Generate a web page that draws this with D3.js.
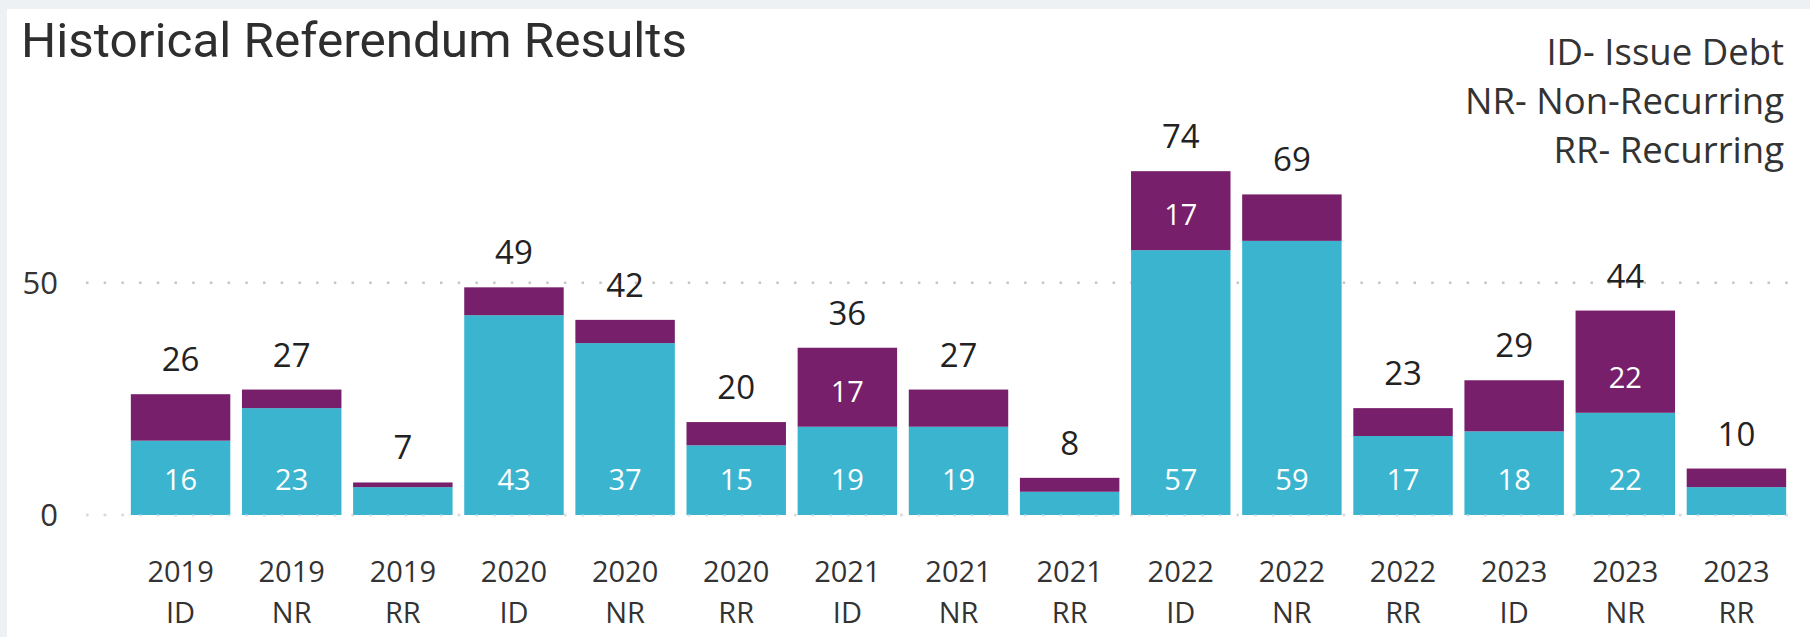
<!DOCTYPE html>
<html>
<head>
<meta charset="utf-8">
<script src="https://cdn.jsdelivr.net/npm/d3@7"></script>
<style>
  html, body { margin: 0; padding: 0; background: #eef1f4; }
  svg { display: block; }
</style>
</head>
<body>
<svg id="chart" width="1810" height="637"></svg>
<script>
// Referendum counts by year and type
const years      = ["2019","2019","2019","2020","2020","2020","2021","2021","2021","2022","2022","2022","2023","2023","2023"];
const types      = ["ID","NR","RR","ID","NR","RR","ID","NR","RR","ID","NR","RR","ID","NR","RR"];
const baseValues = [16, 23, 6, 43, 37, 15, 19, 19, 5, 57, 59, 17, 18, 22, 6];   // lower (teal) segment
const topValues  = [10, 4, 1, 6, 5, 5, 17, 8, 3, 17, 10, 6, 11, 22, 4];        // upper (purple) segment
const yTicks     = [0, 50];
const legendLines = ["ID- Issue Debt", "NR- Non-Recurring", "RR- Recurring"];
const title = "Historical Referendum Results";

const colors = { base: "#3bb5cf", top: "#771f6a" };
const font = "'Open Sans', 'Noto Sans', sans-serif";

const svg = d3.select("#chart");
const W = 1810, H = 637;

// card
svg.append("rect").attr("x", 7).attr("y", 9).attr("width", W - 7).attr("height", H - 9).attr("fill", "#ffffff");

const keys = types.map((t, i) => i);
const x = d3.scaleBand().domain(keys).range([125, 1792]).paddingInner(0.105).paddingOuter(0.0525);
const y = d3.scaleLinear().domain([0, 80]).range([515, 143.3]);

// title
svg.append("text")
  .attr("x", 21).attr("y", 57)
  .attr("font-family", "Roboto, 'DejaVu Sans', sans-serif")
  .attr("font-size", 48)
  .attr("fill", "#2e2e2e")
  .attr("textLength", 666)
  .attr("lengthAdjust", "spacingAndGlyphs")
  .text(title);

// legend notes (right-aligned)
svg.append("g").selectAll("text").data(legendLines).join("text")
  .attr("x", 1784)
  .attr("y", (d, i) => 65 + i * 49)
  .attr("text-anchor", "end")
  .attr("font-family", font)
  .attr("font-size", 36.5)
  .attr("fill", "#333333")
  .text(d => d);

// gridlines
svg.append("g").selectAll("line").data(yTicks).join("line")
  .attr("x1", 86).attr("x2", 1803)
  .attr("y1", d => y(d)).attr("y2", d => y(d))
  .attr("stroke", "#c6c6c6")
  .attr("stroke-width", 2.5)
  .attr("stroke-dasharray", "2.5,15.2");

// y axis labels
svg.append("g").selectAll("text").data(yTicks).join("text")
  .attr("x", 58)
  .attr("y", d => y(d))
  .attr("dy", "0.36em")
  .attr("text-anchor", "end")
  .attr("font-family", font)
  .attr("font-size", 31)
  .attr("fill", "#333333")
  .text(d => d);

// stacked bars
const rows = keys.map(i => ({ i, base: baseValues[i], top: topValues[i], total: baseValues[i] + topValues[i] }));
const bars = svg.append("g");
bars.selectAll("rect.base").data(rows).join("rect")
  .attr("class", "base")
  .attr("x", d => x(d.i)).attr("width", x.bandwidth())
  .attr("y", d => y(d.base)).attr("height", d => y(0) - y(d.base))
  .attr("fill", colors.base);
bars.selectAll("rect.top").data(rows).join("rect")
  .attr("class", "top")
  .attr("x", d => x(d.i)).attr("width", x.bandwidth())
  .attr("y", d => y(d.total)).attr("height", d => y(d.base) - y(d.total))
  .attr("fill", colors.top);

// zero gridline dots show faintly over bar bottoms
svg.append("line")
  .attr("x1", 86).attr("x2", 1803)
  .attr("y1", y(0)).attr("y2", y(0))
  .attr("stroke", "#ffffff").attr("stroke-opacity", 0.35)
  .attr("stroke-width", 2)
  .attr("stroke-dasharray", "2.5,15.2");

// inside-base segment labels, shown where the segment is tall enough
const minLabelPx = 60;
const seg = [];
rows.forEach(d => {
  if (y(0) - y(d.base) > minLabelPx) seg.push({ i: d.i, v: d.base, baseY: y(0) });
  if (y(d.base) - y(d.total) > minLabelPx) seg.push({ i: d.i, v: d.top, baseY: y(d.base) });
});
svg.append("g").selectAll("text").data(seg).join("text")
  .attr("x", d => x(d.i) + x.bandwidth() / 2)
  .attr("y", d => d.baseY - 25)
  .attr("text-anchor", "middle")
  .attr("font-family", font)
  .attr("font-size", 29)
  .attr("fill", "#ffffff")
  .text(d => d.v);

// totals above bars
svg.append("g").selectAll("text").data(rows).join("text")
  .attr("x", d => x(d.i) + x.bandwidth() / 2)
  .attr("y", d => y(d.total) - 23)
  .attr("text-anchor", "middle")
  .attr("font-family", font)
  .attr("font-size", 33)
  .attr("fill", "#222222")
  .text(d => d.total);

// category labels (year / type)
const xl = svg.append("g").selectAll("text").data(rows).join("text")
  .attr("x", d => x(d.i) + x.bandwidth() / 2)
  .attr("text-anchor", "middle")
  .attr("font-family", font)
  .attr("font-size", 29)
  .attr("fill", "#333333");
xl.append("tspan").attr("x", d => x(d.i) + x.bandwidth() / 2).attr("y", 582).text(d => years[d.i]);
xl.append("tspan").attr("x", d => x(d.i) + x.bandwidth() / 2).attr("y", 623).text(d => types[d.i]);
</script>
</body>
</html>
